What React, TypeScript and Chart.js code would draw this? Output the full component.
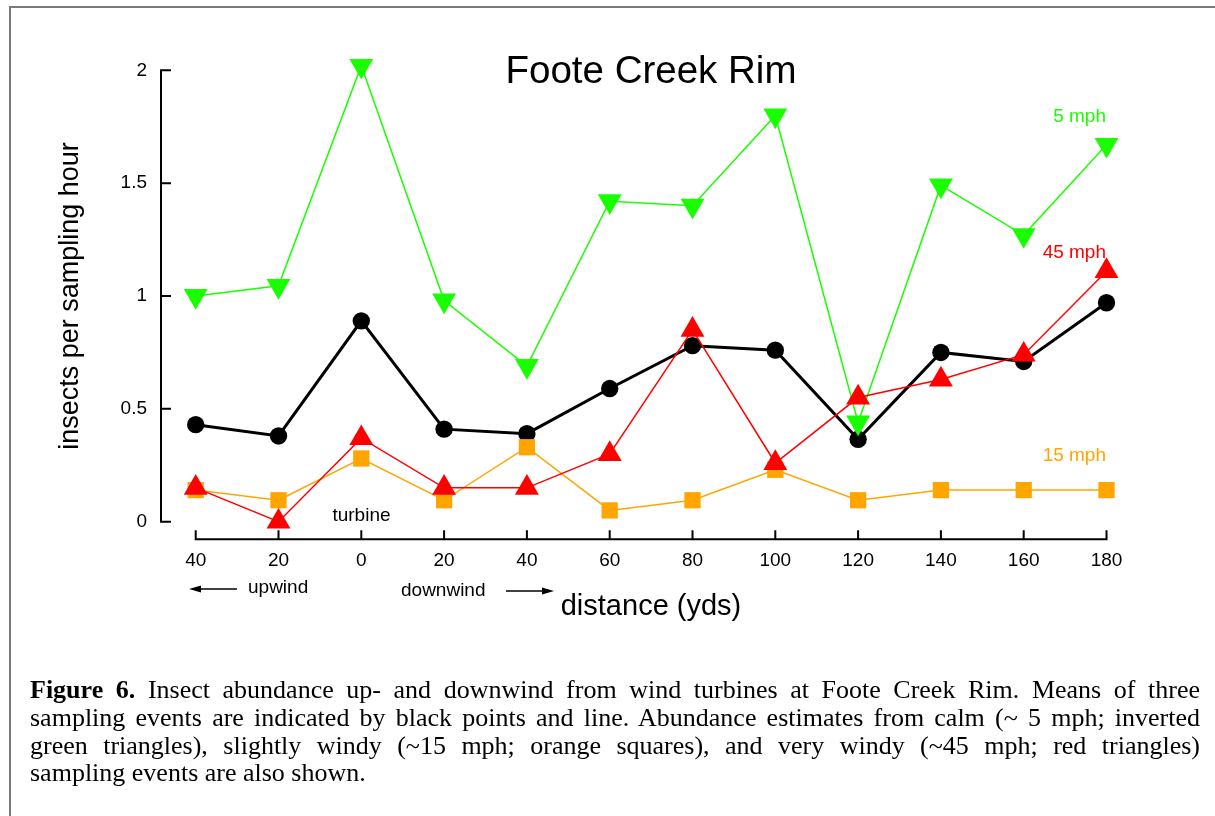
import React, { useEffect, useRef } from 'react';
import { Chart, registerables } from 'chart.js';

Chart.register(...registerables);

// ---- data ----
const distanceLabels = ['40', '20', '0', '20', '40', '60', '80', '100', '120', '140', '160', '180'];
const meanAll = [0.43, 0.38, 0.89, 0.41, 0.39, 0.59, 0.78, 0.76, 0.365, 0.75, 0.71, 0.97];
const calm5mph = [1.0, 1.045, 2.02, 0.98, 0.69, 1.42, 1.4, 1.8, 0.44, 1.49, 1.27, 1.67];
const windy15mph = [0.14, 0.095, 0.28, 0.095, 0.33, 0.05, 0.095, 0.23, 0.095, 0.14, 0.14, 0.14];
const windy45mph = [0.15, 0.0, 0.37, 0.15, 0.15, 0.3, 0.85, 0.26, 0.55, 0.63, 0.74, 1.11];
const yTicks = [0, 0.5, 1, 1.5, 2];

const SANS = "'Liberation Sans', Arial, Helvetica, sans-serif";
const SERIF = "'Liberation Serif', 'Times New Roman', serif";
const GREEN = '#19ff00';
const ORANGE = '#ffa500';
const RED = '#ff0000';

const toPoints = (arr: number[]) => arr.map((v, i) => ({ x: i, y: v }));

// R-style detached axes drawn through the chart's scales
const rAxes = {
  id: 'rAxes',
  beforeDatasetsDraw(chart: any) {
    const { ctx, chartArea } = chart;
    const x = chart.scales.x;
    const y = chart.scales.y;
    ctx.save();
    ctx.strokeStyle = '#000';
    ctx.lineWidth = 2;
    ctx.lineCap = 'square';
    // y axis
    const ax = chartArea.left;
    ctx.beginPath();
    ctx.moveTo(ax, y.getPixelForValue(yTicks[0]));
    ctx.lineTo(ax, y.getPixelForValue(yTicks[yTicks.length - 1]));
    yTicks.forEach((v) => {
      const py = y.getPixelForValue(v);
      ctx.moveTo(ax, py);
      ctx.lineTo(ax + 9, py);
    });
    ctx.stroke();
    // x axis
    const ay = chartArea.bottom + 17.5;
    ctx.beginPath();
    ctx.moveTo(x.getPixelForValue(0), ay);
    ctx.lineTo(x.getPixelForValue(distanceLabels.length - 1), ay);
    distanceLabels.forEach((_, i) => {
      const px = x.getPixelForValue(i);
      ctx.moveTo(px, ay);
      ctx.lineTo(px, ay - 8);
    });
    ctx.stroke();
    ctx.restore();
  },
};

function TextAt(props: {
  text: React.ReactNode;
  x: number;
  baseline: number;
  size: number;
  color?: string;
  align?: 'left' | 'right' | 'center';
  family?: string;
}) {
  const { text, x, baseline, size, color = '#000', align = 'left', family = SANS } = props;
  const style: React.CSSProperties = {
    position: 'absolute',
    top: baseline - 0.8465 * size,
    fontSize: size,
    lineHeight: `${size}px`,
    fontFamily: family,
    color,
    whiteSpace: 'nowrap',
  };
  if (align === 'left') style.left = x;
  else if (align === 'right') style.right = 1215 - x;
  else {
    style.left = x;
    style.transform = 'translateX(-50%)';
  }
  return <div style={style}>{text}</div>;
}

const captionLines: React.ReactNode[] = [
  <>
    <b>Figure 6.</b> Insect abundance up- and downwind from wind turbines at Foote Creek Rim. Means of three
  </>,
  'sampling events are indicated by black points and line. Abundance estimates from calm (~ 5 mph; inverted',
  'green triangles), slightly windy (~15 mph; orange squares), and very windy (~45 mph; red triangles)',
  'sampling events are also shown.',
];

export default function App() {
  const canvasRef = useRef<HTMLCanvasElement | null>(null);

  useEffect(() => {
    if (!canvasRef.current) return;
    const chart = new Chart(canvasRef.current, {
      type: 'line',
      data: {
        datasets: [
          {
            label: '45 mph',
            data: toPoints(windy45mph),
            borderColor: RED,
            backgroundColor: RED,
            borderWidth: 1.5,
            pointStyle: 'triangle',
            pointRadius: 13.8,
            pointBorderWidth: 0,
            pointBackgroundColor: RED,
            clip: false as any,
            order: 0,
          },
          {
            label: '5 mph',
            data: toPoints(calm5mph),
            borderColor: GREEN,
            backgroundColor: GREEN,
            borderWidth: 1.5,
            pointStyle: 'triangle',
            pointRotation: 180,
            pointRadius: 13.8,
            pointBorderWidth: 0,
            pointBackgroundColor: GREEN,
            clip: false as any,
            order: 1,
          },
          {
            label: '15 mph',
            data: toPoints(windy15mph),
            borderColor: ORANGE,
            backgroundColor: ORANGE,
            borderWidth: 1.5,
            pointStyle: 'rect',
            pointRadius: 11.5,
            pointBorderWidth: 0,
            pointBackgroundColor: ORANGE,
            clip: false as any,
            order: 2,
          },
          {
            label: 'mean',
            data: toPoints(meanAll),
            borderColor: '#000',
            backgroundColor: '#000',
            borderWidth: 3,
            pointStyle: 'circle',
            pointRadius: 8.7,
            pointBorderWidth: 0,
            pointBackgroundColor: '#000',
            clip: false as any,
            order: 3,
          },
        ],
      },
      options: {
        animation: false,
        responsive: false,
        maintainAspectRatio: false,
        events: [],
        layout: { padding: { left: 0, top: 70.3, right: 76, bottom: 68.3 } },
        plugins: {
          legend: { display: false },
          title: { display: false },
          tooltip: { enabled: false },
        },
        elements: { line: { tension: 0 } },
        scales: {
          x: {
            type: 'linear',
            min: -0.4191,
            max: 11.3925,
            afterBuildTicks: (s: any) => {
              s.ticks = distanceLabels.map((_, i) => ({ value: i }));
            },
            afterFit: (s: any) => {
              s.height = 60;
            },
            ticks: {
              callback: (v: any) => distanceLabels[Math.round(Number(v))],
              font: { family: SANS, size: 19 },
              color: '#000',
              padding: 28,
              autoSkip: false,
              maxRotation: 0,
            },
            grid: { display: false, drawTicks: false },
            border: { display: false },
          },
          y: {
            type: 'linear',
            min: 0,
            max: 2,
            afterBuildTicks: (s: any) => {
              s.ticks = yTicks.map((v) => ({ value: v }));
            },
            afterFit: (s: any) => {
              s.width = 161;
            },
            ticks: {
              callback: (v: any) => String(v),
              font: { family: SANS, size: 19 },
              color: '#000',
              padding: 14,
            },
            grid: { display: false, drawTicks: false },
            border: { display: false },
          },
        },
      },
      plugins: [rAxes],
    } as any);
    return () => chart.destroy();
  }, []);

  return (
    <div
      style={{
        position: 'absolute',
        left: 0,
        top: 0,
        width: 1215,
        height: 816,
        overflow: 'hidden',
        background: '#fff',
      }}
    >
      <div
        style={{
          position: 'absolute',
          left: 9,
          top: 6,
          width: 1300,
          height: 900,
          borderLeft: '2px solid #7a7a7a',
          borderTop: '2px solid #7a7a7a',
        }}
      />
      <canvas
        ref={canvasRef}
        width={1215}
        height={650}
        style={{ position: 'absolute', left: 0, top: 0, width: 1215, height: 650 }}
      />
      <TextAt text="Foote Creek Rim" x={651} baseline={83.3} size={38.5} align="center" />
      <TextAt text="5 mph" x={1106} baseline={122.5} size={19} color={GREEN} align="right" />
      <TextAt text="45 mph" x={1106} baseline={258} size={19} color={RED} align="right" />
      <TextAt text="15 mph" x={1106} baseline={461.5} size={19} color={ORANGE} align="right" />
      <TextAt text="turbine" x={361.5} baseline={521.5} size={19} align="center" />
      <TextAt text="upwind" x={248} baseline={593.5} size={19} />
      <TextAt text="downwind" x={401} baseline={596} size={19} />
      <TextAt text="distance (yds)" x={651} baseline={616} size={29} align="center" />
      <div
        style={{
          position: 'absolute',
          left: 69,
          top: 295.5,
          transform: 'translate(-50%, -50%) rotate(-90deg)',
          fontFamily: SANS,
          fontSize: 27,
          lineHeight: '27px',
          whiteSpace: 'nowrap',
          color: '#000',
        }}
      >
        insects per sampling hour
      </div>
      <svg
        width={1215}
        height={816}
        style={{ position: 'absolute', left: 0, top: 0, pointerEvents: 'none' }}
      >
        <line x1={198} y1={589} x2={237} y2={589} stroke="#000" strokeWidth={1.5} />
        <polygon points="189,589 201,585.5 201,592.5" fill="#000" />
        <line x1={506} y1={591} x2={545} y2={591} stroke="#000" strokeWidth={1.5} />
        <polygon points="554,591 542,587.5 542,594.5" fill="#000" />
      </svg>
      {captionLines.map((line, i) => (
        <div
          key={i}
          style={{
            position: 'absolute',
            left: 30,
            width: 1170,
            top: 699 + i * 27.7 - 0.8375 * 26,
            fontFamily: SERIF,
            fontSize: 26,
            lineHeight: '26px',
            color: '#000',
            whiteSpace: 'nowrap',
            textAlign: 'justify',
            textAlignLast: i < captionLines.length - 1 ? 'justify' : 'left',
          }}
        >
          {line}
        </div>
      ))}
    </div>
  );
}
